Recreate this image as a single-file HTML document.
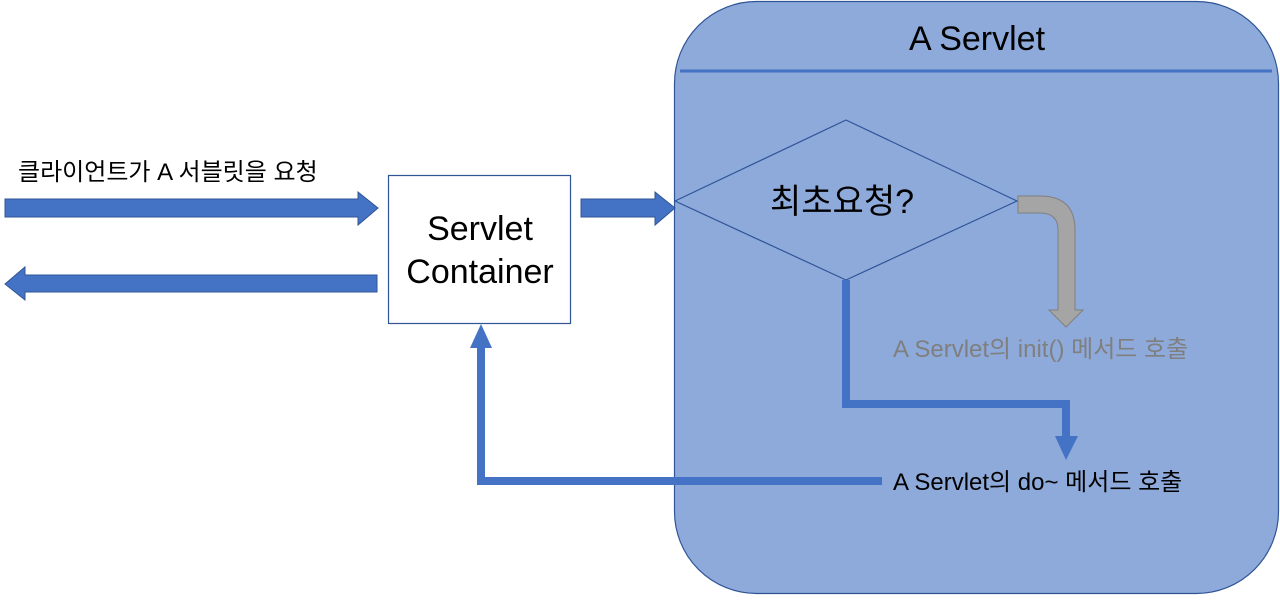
<!DOCTYPE html>
<html><head><meta charset="utf-8"><style>
html,body{margin:0;padding:0;background:#fff;}
svg text{font-family:"Liberation Sans","Noto Sans CJK KR",sans-serif;}
</style></head><body>
<svg width="1280" height="596" viewBox="0 0 1280 596" xmlns="http://www.w3.org/2000/svg">
<rect x="674.5" y="1.5" width="604" height="592" rx="82" ry="82" fill="#8eaadb" stroke="#2f5597" stroke-width="1.2"/>
<line x1="680" y1="71" x2="1272" y2="71" stroke="#4472c4" stroke-width="3"/>
<text x="977" y="50" font-size="34" text-anchor="middle" fill="#000">A Servlet</text>
<polygon points="675,201 846,120 1017,201 846,280" fill="#8eaadb" stroke="#2f5597" stroke-width="1.2"/>
<text x="842" y="213" font-size="34" text-anchor="middle" fill="#000">최초요청?</text>
<!-- gray bent arrow -->
<path d="M1018,196 L1040,196 Q1075,196 1075,230 L1075,310 L1083,310 L1066,327 L1049,310 L1058,310 L1058,230 Q1058,213 1040,213 L1018,213 Z" fill="#a5a5a5" stroke="#7f7f7f" stroke-width="1"/>
<text x="893" y="357" font-size="24" fill="#7f7f7f">A Servlet의 init() 메서드 호출</text>
<!-- blue connector -->
<polyline points="846,280 846,404 1066,404 1066,438" fill="none" stroke="#4472c4" stroke-width="8"/>
<polygon points="1055,436 1078,436 1066,460" fill="#4472c4"/>
<text x="893" y="490" font-size="24" fill="#000">A Servlet의 do~ 메서드 호출</text>
<polyline points="882,481 481,481 481,345" fill="none" stroke="#4472c4" stroke-width="8"/>
<polygon points="470,348 492,348 481,324" fill="#4472c4"/>
<!-- container -->
<rect x="388.5" y="175.5" width="182" height="148" fill="#fff" stroke="#2f5597" stroke-width="1.2"/>
<text x="480" y="240" font-size="34" text-anchor="middle" fill="#000">Servlet</text>
<text x="480" y="283" font-size="34" text-anchor="middle" fill="#000">Container</text>
<!-- left arrows -->
<text x="18" y="180" font-size="24" fill="#000">클라이언트가 A 서블릿을 요청</text>
<polygon points="5,199 358,199 358,192 378,208 358,225 358,217 5,217" fill="#4472c4" stroke="#2f5597" stroke-width="1"/>
<polygon points="377,275 25,275 25,267 5,284 25,300 25,292 377,292" fill="#4472c4" stroke="#2f5597" stroke-width="1"/>
<polygon points="581,199 655,199 655,192 675,208 655,225 655,217 581,217" fill="#4472c4" stroke="#2f5597" stroke-width="1"/>
</svg>
</body></html>
